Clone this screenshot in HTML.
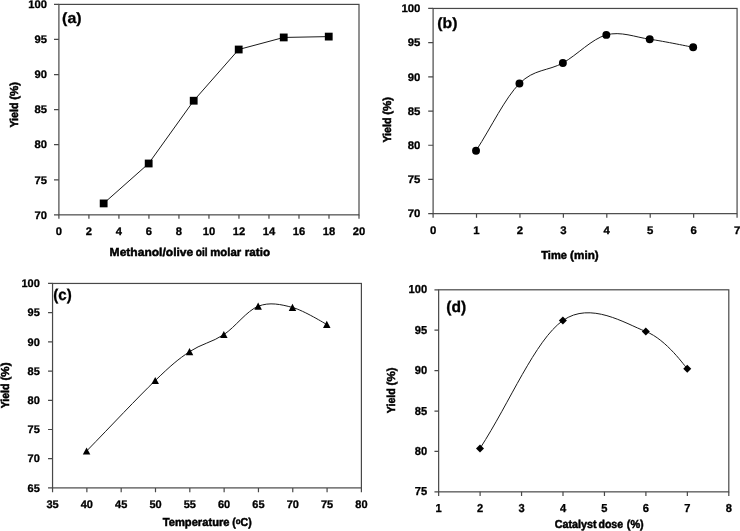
<!DOCTYPE html>
<html><head><meta charset="utf-8"><title>Figure</title>
<style>html,body{margin:0;padding:0;background:#fff;overflow:hidden;}svg{display:block;will-change:transform;font-family:"Liberation Sans", sans-serif;font-weight:bold;fill:#000;}text{stroke:#000;stroke-width:.3px;text-rendering:geometricPrecision;}.t{stroke-width:.5px;}</style>
</head><body>
<svg width="740" height="531" viewBox="0 0 740 531">
<rect width="740" height="531" fill="#fff"/>
<g stroke="#484848" stroke-width="1.2" fill="none">
<rect x="58.9" y="4.4" width="300.1" height="210.45"/>
<path d="M58.9,214.85v4M88.91,214.85v4M118.92,214.85v4M148.93,214.85v4M178.94,214.85v4M208.95,214.85v4M238.96,214.85v4M268.97,214.85v4M298.98,214.85v4M328.99,214.85v4M359,214.85v4M58.9,214.85h-4.9M58.9,179.78h-4.9M58.9,144.7h-4.9M58.9,109.62h-4.9M58.9,74.55h-4.9M58.9,39.47h-4.9M58.9,4.4h-4.9"/>
</g>
<text x="58.9" y="235.2" font-size="11" text-anchor="middle" textLength="6.24" lengthAdjust="spacingAndGlyphs">0</text>
<text x="88.91" y="235.2" font-size="11" text-anchor="middle" textLength="6.24" lengthAdjust="spacingAndGlyphs">2</text>
<text x="118.92" y="235.2" font-size="11" text-anchor="middle" textLength="6.24" lengthAdjust="spacingAndGlyphs">4</text>
<text x="148.93" y="235.2" font-size="11" text-anchor="middle" textLength="6.24" lengthAdjust="spacingAndGlyphs">6</text>
<text x="178.94" y="235.2" font-size="11" text-anchor="middle" textLength="6.24" lengthAdjust="spacingAndGlyphs">8</text>
<text x="208.95" y="235.2" font-size="11" text-anchor="middle" textLength="12.48" lengthAdjust="spacingAndGlyphs">10</text>
<text x="238.96" y="235.2" font-size="11" text-anchor="middle" textLength="12.48" lengthAdjust="spacingAndGlyphs">12</text>
<text x="268.97" y="235.2" font-size="11" text-anchor="middle" textLength="12.48" lengthAdjust="spacingAndGlyphs">14</text>
<text x="298.98" y="235.2" font-size="11" text-anchor="middle" textLength="12.48" lengthAdjust="spacingAndGlyphs">16</text>
<text x="328.99" y="235.2" font-size="11" text-anchor="middle" textLength="12.48" lengthAdjust="spacingAndGlyphs">18</text>
<text x="359" y="235.2" font-size="11" text-anchor="middle" textLength="12.48" lengthAdjust="spacingAndGlyphs">20</text>
<text x="46.9" y="218.6" font-size="11" text-anchor="end" textLength="12.48" lengthAdjust="spacingAndGlyphs">70</text>
<text x="46.9" y="183.53" font-size="11" text-anchor="end" textLength="12.48" lengthAdjust="spacingAndGlyphs">75</text>
<text x="46.9" y="148.45" font-size="11" text-anchor="end" textLength="12.48" lengthAdjust="spacingAndGlyphs">80</text>
<text x="46.9" y="113.38" font-size="11" text-anchor="end" textLength="12.48" lengthAdjust="spacingAndGlyphs">85</text>
<text x="46.9" y="78.3" font-size="11" text-anchor="end" textLength="12.48" lengthAdjust="spacingAndGlyphs">90</text>
<text x="46.9" y="43.22" font-size="11" text-anchor="end" textLength="12.48" lengthAdjust="spacingAndGlyphs">95</text>
<text x="46.9" y="8.15" font-size="11" text-anchor="end" textLength="18.72" lengthAdjust="spacingAndGlyphs">100</text>
<path d="M103.66,203.42 L148.68,163.5 L193.7,100.72 L238.71,49.51 L283.73,37.44 L328.74,36.6" fill="none" stroke="#1a1a1a" stroke-width="1" stroke-linejoin="round"/>
<rect x="99.76" y="199.52" width="7.8" height="7.8" fill="#000"/>
<rect x="144.78" y="159.6" width="7.8" height="7.8" fill="#000"/>
<rect x="189.8" y="96.82" width="7.8" height="7.8" fill="#000"/>
<rect x="234.81" y="45.61" width="7.8" height="7.8" fill="#000"/>
<rect x="279.83" y="33.54" width="7.8" height="7.8" fill="#000"/>
<rect x="324.84" y="32.7" width="7.8" height="7.8" fill="#000"/>
<text x="62.1" y="23.3" font-size="15" text-anchor="start" textLength="19.45" lengthAdjust="spacingAndGlyphs">(a)</text>
<text x="109.62" y="255.5" font-size="11.5" text-anchor="start" textLength="83.61" lengthAdjust="spacingAndGlyphs" class="t">Methanol/olive</text>
<text x="195.79" y="255.5" font-size="11.5" text-anchor="start" textLength="11.88" lengthAdjust="spacingAndGlyphs" class="t">oil</text>
<text x="210.26" y="255.5" font-size="11.5" text-anchor="start" textLength="30.89" lengthAdjust="spacingAndGlyphs" class="t">molar</text>
<text x="244.85" y="255.5" font-size="11.5" text-anchor="start" textLength="25.14" lengthAdjust="spacingAndGlyphs" class="t">ratio</text>
<text x="18.3" y="127.61" font-size="11.5" text-anchor="start" textLength="25.03" lengthAdjust="spacingAndGlyphs" transform="rotate(-90 18.3 127.61)" class="t">Yield</text>
<text x="18.3" y="99.78" font-size="11.5" text-anchor="start" textLength="17.96" lengthAdjust="spacingAndGlyphs" transform="rotate(-90 18.3 99.78)" class="t">(%)</text>
<g stroke="#484848" stroke-width="1.2" fill="none">
<rect x="433.1" y="8.45" width="303.97" height="205.2"/>
<path d="M433.1,213.65v4M476.52,213.65v4M519.95,213.65v4M563.37,213.65v4M606.8,213.65v4M650.22,213.65v4M693.65,213.65v4M737.07,213.65v4M433.1,213.65h-4.9M433.1,179.45h-4.9M433.1,145.25h-4.9M433.1,111.05h-4.9M433.1,76.85h-4.9M433.1,42.65h-4.9M433.1,8.45h-4.9"/>
</g>
<text x="433.1" y="234" font-size="11" text-anchor="middle" textLength="6.33" lengthAdjust="spacingAndGlyphs">0</text>
<text x="476.52" y="234" font-size="11" text-anchor="middle" textLength="6.33" lengthAdjust="spacingAndGlyphs">1</text>
<text x="519.95" y="234" font-size="11" text-anchor="middle" textLength="6.33" lengthAdjust="spacingAndGlyphs">2</text>
<text x="563.37" y="234" font-size="11" text-anchor="middle" textLength="6.33" lengthAdjust="spacingAndGlyphs">3</text>
<text x="606.8" y="234" font-size="11" text-anchor="middle" textLength="6.33" lengthAdjust="spacingAndGlyphs">4</text>
<text x="650.22" y="234" font-size="11" text-anchor="middle" textLength="6.33" lengthAdjust="spacingAndGlyphs">5</text>
<text x="693.65" y="234" font-size="11" text-anchor="middle" textLength="6.33" lengthAdjust="spacingAndGlyphs">6</text>
<text x="737.07" y="234" font-size="11" text-anchor="middle" textLength="6.33" lengthAdjust="spacingAndGlyphs">7</text>
<text x="420.4" y="217.4" font-size="11" text-anchor="end" textLength="12.66" lengthAdjust="spacingAndGlyphs">70</text>
<text x="420.4" y="183.2" font-size="11" text-anchor="end" textLength="12.66" lengthAdjust="spacingAndGlyphs">75</text>
<text x="420.4" y="149" font-size="11" text-anchor="end" textLength="12.66" lengthAdjust="spacingAndGlyphs">80</text>
<text x="420.4" y="114.8" font-size="11" text-anchor="end" textLength="12.66" lengthAdjust="spacingAndGlyphs">85</text>
<text x="420.4" y="80.6" font-size="11" text-anchor="end" textLength="12.66" lengthAdjust="spacingAndGlyphs">90</text>
<text x="420.4" y="46.4" font-size="11" text-anchor="end" textLength="12.66" lengthAdjust="spacingAndGlyphs">95</text>
<text x="420.4" y="12.2" font-size="11" text-anchor="end" textLength="19" lengthAdjust="spacingAndGlyphs">100</text>
<path d="M476.02,150.72 C491.66,126.54 504.97,98.18 519.45,83.55 C533.92,68.93 548.4,71.07 562.87,62.96 C577.35,54.86 591.82,38.88 606.3,34.92 C620.77,30.97 635.25,37.17 649.72,39.23 C664.2,41.29 691.41,46.98 693.15,47.3" fill="none" stroke="#1a1a1a" stroke-width="1" stroke-linejoin="round"/>
<circle cx="476.02" cy="150.72" r="3.95" fill="#000"/>
<circle cx="519.45" cy="83.55" r="3.95" fill="#000"/>
<circle cx="562.87" cy="62.96" r="3.95" fill="#000"/>
<circle cx="606.3" cy="34.92" r="3.95" fill="#000"/>
<circle cx="649.72" cy="39.23" r="3.95" fill="#000"/>
<circle cx="693.15" cy="47.3" r="3.95" fill="#000"/>
<text x="437.31" y="27.7" font-size="15" text-anchor="start" textLength="20.13" lengthAdjust="spacingAndGlyphs">(b)</text>
<text x="541.29" y="258.5" font-size="11.5" text-anchor="start" textLength="25.71" lengthAdjust="spacingAndGlyphs" class="t">Time</text>
<text x="570.12" y="258.5" font-size="11.5" text-anchor="start" textLength="28.56" lengthAdjust="spacingAndGlyphs" class="t">(min)</text>
<text x="390.8" y="142.61" font-size="11.5" text-anchor="start" textLength="25.03" lengthAdjust="spacingAndGlyphs" transform="rotate(-90 390.8 142.61)" class="t">Yield</text>
<text x="390.8" y="114.78" font-size="11.5" text-anchor="start" textLength="17.96" lengthAdjust="spacingAndGlyphs" transform="rotate(-90 390.8 114.78)" class="t">(%)</text>
<g stroke="#484848" stroke-width="1.2" fill="none">
<rect x="52.55" y="283.45" width="308.85" height="204.45"/>
<path d="M52.55,487.9v4.3M86.87,487.9v4.3M121.18,487.9v4.3M155.5,487.9v4.3M189.82,487.9v4.3M224.13,487.9v4.3M258.45,487.9v4.3M292.77,487.9v4.3M327.08,487.9v4.3M361.4,487.9v4.3M52.55,487.9h-4.5M52.55,458.69h-4.5M52.55,429.49h-4.5M52.55,400.28h-4.5M52.55,371.07h-4.5M52.55,341.86h-4.5M52.55,312.66h-4.5M52.55,283.45h-4.5"/>
</g>
<text x="52.55" y="507.6" font-size="11" text-anchor="middle" textLength="12.24" lengthAdjust="spacingAndGlyphs">35</text>
<text x="86.87" y="507.6" font-size="11" text-anchor="middle" textLength="12.24" lengthAdjust="spacingAndGlyphs">40</text>
<text x="121.18" y="507.6" font-size="11" text-anchor="middle" textLength="12.24" lengthAdjust="spacingAndGlyphs">45</text>
<text x="155.5" y="507.6" font-size="11" text-anchor="middle" textLength="12.24" lengthAdjust="spacingAndGlyphs">50</text>
<text x="189.82" y="507.6" font-size="11" text-anchor="middle" textLength="12.24" lengthAdjust="spacingAndGlyphs">55</text>
<text x="224.13" y="507.6" font-size="11" text-anchor="middle" textLength="12.24" lengthAdjust="spacingAndGlyphs">60</text>
<text x="258.45" y="507.6" font-size="11" text-anchor="middle" textLength="12.24" lengthAdjust="spacingAndGlyphs">65</text>
<text x="292.77" y="507.6" font-size="11" text-anchor="middle" textLength="12.24" lengthAdjust="spacingAndGlyphs">70</text>
<text x="327.08" y="507.6" font-size="11" text-anchor="middle" textLength="12.24" lengthAdjust="spacingAndGlyphs">75</text>
<text x="361.4" y="507.6" font-size="11" text-anchor="middle" textLength="12.24" lengthAdjust="spacingAndGlyphs">80</text>
<text x="39.8" y="491.65" font-size="11" text-anchor="end" textLength="12.24" lengthAdjust="spacingAndGlyphs">65</text>
<text x="39.8" y="462.44" font-size="11" text-anchor="end" textLength="12.24" lengthAdjust="spacingAndGlyphs">70</text>
<text x="39.8" y="433.24" font-size="11" text-anchor="end" textLength="12.24" lengthAdjust="spacingAndGlyphs">75</text>
<text x="39.8" y="404.03" font-size="11" text-anchor="end" textLength="12.24" lengthAdjust="spacingAndGlyphs">80</text>
<text x="39.8" y="374.82" font-size="11" text-anchor="end" textLength="12.24" lengthAdjust="spacingAndGlyphs">85</text>
<text x="39.8" y="345.61" font-size="11" text-anchor="end" textLength="12.24" lengthAdjust="spacingAndGlyphs">90</text>
<text x="39.8" y="316.41" font-size="11" text-anchor="end" textLength="12.24" lengthAdjust="spacingAndGlyphs">95</text>
<text x="39.8" y="287.2" font-size="11" text-anchor="end" textLength="18.35" lengthAdjust="spacingAndGlyphs">100</text>
<path d="M86.57,451.1 C111.27,425.72 138.04,397.16 155.2,380.59 C171.34,365.01 178.08,359.34 189.52,351.68 C200.96,344.02 212.39,342.19 223.83,334.62 C235.27,327.06 246.71,310.82 258.15,306.29 C269.59,301.76 281.03,304.42 292.47,307.46 C303.91,310.5 325.41,323.83 326.78,324.52" fill="none" stroke="#1a1a1a" stroke-width="1" stroke-linejoin="round"/>
<path d="M86.57,447.4 L90.32,454.6 L82.82,454.6 Z" fill="#000"/>
<path d="M155.2,376.89 L158.95,384.09 L151.45,384.09 Z" fill="#000"/>
<path d="M189.52,347.98 L193.27,355.18 L185.77,355.18 Z" fill="#000"/>
<path d="M223.83,330.92 L227.58,338.12 L220.08,338.12 Z" fill="#000"/>
<path d="M258.15,302.59 L261.9,309.79 L254.4,309.79 Z" fill="#000"/>
<path d="M292.47,303.76 L296.22,310.96 L288.72,310.96 Z" fill="#000"/>
<path d="M326.78,320.82 L330.53,328.02 L323.03,328.02 Z" fill="#000"/>
<text x="53.24" y="300.1" font-size="15.7" text-anchor="start" textLength="18.47" lengthAdjust="spacingAndGlyphs">(c)</text>
<text x="162.69" y="526.4" font-size="11.5" text-anchor="start" textLength="66.84" lengthAdjust="spacingAndGlyphs" class="t">Temperature</text>
<text x="232.3" y="526.4" font-size="11.5" text-anchor="start" textLength="19.4" lengthAdjust="spacingAndGlyphs" class="t">(<tspan font-size="8.6" dy="-2.9">o</tspan><tspan dy="2.9">C)</tspan></text>
<text x="8.6" y="408.21" font-size="11.5" text-anchor="start" textLength="24.62" lengthAdjust="spacingAndGlyphs" transform="rotate(-90 8.6 408.21)" class="t">Yield</text>
<text x="8.6" y="380.58" font-size="11.5" text-anchor="start" textLength="18.17" lengthAdjust="spacingAndGlyphs" transform="rotate(-90 8.6 380.58)" class="t">(%)</text>
<g stroke="#484848" stroke-width="1.2" fill="none">
<rect x="438.65" y="289.8" width="290.15" height="202.05"/>
<path d="M438.65,491.85v4.05M480.1,491.85v4.05M521.55,491.85v4.05M563,491.85v4.05M604.45,491.85v4.05M645.9,491.85v4.05M687.35,491.85v4.05M728.8,491.85v4.05M438.65,491.85h-4.2M438.65,451.44h-4.2M438.65,411.03h-4.2M438.65,370.62h-4.2M438.65,330.21h-4.2M438.65,289.8h-4.2"/>
</g>
<text x="438.65" y="511.5" font-size="11.6" text-anchor="middle" textLength="6.19" lengthAdjust="spacingAndGlyphs">1</text>
<text x="480.1" y="511.5" font-size="11.6" text-anchor="middle" textLength="6.19" lengthAdjust="spacingAndGlyphs">2</text>
<text x="521.55" y="511.5" font-size="11.6" text-anchor="middle" textLength="6.19" lengthAdjust="spacingAndGlyphs">3</text>
<text x="563" y="511.5" font-size="11.6" text-anchor="middle" textLength="6.19" lengthAdjust="spacingAndGlyphs">4</text>
<text x="604.45" y="511.5" font-size="11.6" text-anchor="middle" textLength="6.19" lengthAdjust="spacingAndGlyphs">5</text>
<text x="645.9" y="511.5" font-size="11.6" text-anchor="middle" textLength="6.19" lengthAdjust="spacingAndGlyphs">6</text>
<text x="687.35" y="511.5" font-size="11.6" text-anchor="middle" textLength="6.19" lengthAdjust="spacingAndGlyphs">7</text>
<text x="728.8" y="511.5" font-size="11.6" text-anchor="middle" textLength="6.19" lengthAdjust="spacingAndGlyphs">8</text>
<text x="427.1" y="495.35" font-size="11.6" text-anchor="end" textLength="12.39" lengthAdjust="spacingAndGlyphs">75</text>
<text x="427.1" y="454.94" font-size="11.6" text-anchor="end" textLength="12.39" lengthAdjust="spacingAndGlyphs">80</text>
<text x="427.1" y="414.53" font-size="11.6" text-anchor="end" textLength="12.39" lengthAdjust="spacingAndGlyphs">85</text>
<text x="427.1" y="374.12" font-size="11.6" text-anchor="end" textLength="12.39" lengthAdjust="spacingAndGlyphs">90</text>
<text x="427.1" y="333.71" font-size="11.6" text-anchor="end" textLength="12.39" lengthAdjust="spacingAndGlyphs">95</text>
<text x="427.1" y="293.3" font-size="11.6" text-anchor="end" textLength="18.58" lengthAdjust="spacingAndGlyphs">100</text>
<path d="M480,448.45 C509.84,402.39 535.27,340 562.9,320.51 C590.53,301.02 625.07,323.46 645.8,331.5 C666.52,339.54 685.59,367.27 687.25,368.76" fill="none" stroke="#1a1a1a" stroke-width="1" stroke-linejoin="round"/>
<path d="M480,444.45 L484,448.45 L480,452.45 L476,448.45 Z" fill="#000"/>
<path d="M562.9,316.51 L566.9,320.51 L562.9,324.51 L558.9,320.51 Z" fill="#000"/>
<path d="M645.8,327.5 L649.8,331.5 L645.8,335.5 L641.8,331.5 Z" fill="#000"/>
<path d="M687.25,364.76 L691.25,368.76 L687.25,372.76 L683.25,368.76 Z" fill="#000"/>
<text x="446.22" y="312.3" font-size="15.7" text-anchor="start" textLength="19.91" lengthAdjust="spacingAndGlyphs">(d)</text>
<text x="554.67" y="527.6" font-size="11.5" text-anchor="start" textLength="41.85" lengthAdjust="spacingAndGlyphs" class="t">Catalyst</text>
<text x="598.48" y="527.6" font-size="11.5" text-anchor="start" textLength="24.58" lengthAdjust="spacingAndGlyphs" class="t">dose</text>
<text x="626.75" y="527.6" font-size="11.5" text-anchor="start" textLength="17" lengthAdjust="spacingAndGlyphs" class="t">(%)</text>
<text x="395" y="413.21" font-size="11.5" text-anchor="start" textLength="25.03" lengthAdjust="spacingAndGlyphs" transform="rotate(-90 395 413.21)" class="t">Yield</text>
<text x="395" y="385.38" font-size="11.5" text-anchor="start" textLength="17.96" lengthAdjust="spacingAndGlyphs" transform="rotate(-90 395 385.38)" class="t">(%)</text>
</svg></body></html>
